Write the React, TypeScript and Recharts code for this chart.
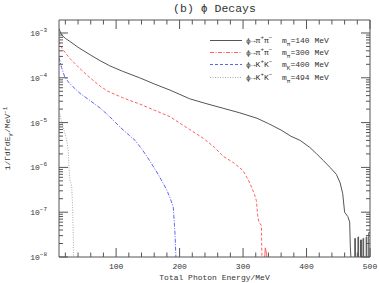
import React from 'react';
import { LineChart, Line, XAxis, YAxis, Label } from 'recharts';

// phi -> pi+ pi-, m = 140 MeV
const energy140 = [10, 12, 15, 20, 27, 40, 60, 75, 90, 110, 137, 160, 185, 216, 240, 268, 295, 322, 340, 360, 375, 390, 405, 416, 427, 437, 447, 453, 457, 460, 465, 468, 469, 471];
const rate140 = [1.25e-3, 1.05e-3, 8.8e-4, 7.6e-4, 6.5e-4, 4.8e-4, 3.2e-4, 2.4e-4, 1.85e-4, 1.4e-4, 1e-4, 7.3e-5, 5.3e-5, 3.4e-5, 2.7e-5, 2.1e-5, 1.65e-5, 1.25e-5, 9.5e-6, 6.8e-6, 5e-6, 4e-6, 2.8e-6, 2e-6, 1.4e-6, 1e-6, 7e-7, 4.5e-7, 2.6e-7, 1e-7, 8e-8, 6e-8, 1.7e-8, 5e-9];
const energy140Tail = [474, 476, 477, 481, 482, 485, 486.5, 489, 490, 494, 495, 498, 500];
const rate140Tail = [5e-9, 2.6e-8, 5e-9, 2.8e-8, 5e-9, 2.4e-8, 5e-9, 2.6e-8, 5e-9, 2.8e-8, 5e-9, 3.5e-8, 3.5e-8];

// phi -> pi+ pi-, m = 300 MeV
const energy300 = [10, 15, 20, 27, 43, 59, 75, 87, 110, 137, 160, 185, 216, 237, 255, 268, 284, 300, 311, 318, 321, 323, 325, 329, 330];
const rate300 = [6.5e-4, 4.5e-4, 3.6e-4, 2.7e-4, 1.6e-4, 1e-4, 6.5e-5, 5e-5, 3.6e-5, 2.6e-5, 1.9e-5, 1.35e-5, 7e-6, 4.5e-6, 2.8e-6, 1.8e-6, 1.3e-6, 8.5e-7, 4.4e-7, 2.5e-7, 1.8e-7, 8.5e-8, 6e-8, 5e-8, 5e-9];
const energy300Tail = [333, 335, 337, 339];
const rate300Tail = [5e-9, 1.6e-8, 1.2e-8, 5e-9];

// phi -> K+ K-, m = 400 MeV
const energy400 = [10, 14, 19, 25, 32, 43, 59, 75, 90, 106, 118, 130, 142, 153, 165, 175, 180, 186, 190, 192, 193, 195];
const rate400 = [2.8e-4, 1.7e-4, 1.05e-4, 8e-5, 6.3e-5, 4.5e-5, 3.1e-5, 2.1e-5, 1.35e-5, 8e-6, 5.6e-6, 4e-6, 2.4e-6, 1.4e-6, 7.5e-7, 4.2e-7, 3.1e-7, 1.9e-7, 1.3e-7, 5e-8, 2.8e-8, 5e-9];

// phi -> K+ K-, m = 494 MeV
const energy494 = [11, 14.7, 19.4, 22, 24.6, 25.7, 27.3, 29, 30, 31.5, 32.5, 33];
const rate494 = [1.6e-5, 1e-5, 5.7e-6, 4.1e-6, 2.4e-6, 1e-6, 5e-7, 4.4e-7, 3.8e-7, 1.3e-7, 3e-8, 5e-9];

const xTicks = [20, 40, 60, 80, 100, 120, 140, 160, 180, 200, 220, 240, 260, 280, 300, 320, 340, 360, 380, 400, 420, 440, 460, 480, 500];
const decades = [-8, -7, -6, -5, -4, -3];
const mantissas = [1, 2, 3, 4, 5, 6, 7, 8, 9];

const yTicks: number[] = [];
decades.forEach((d) => mantissas.forEach((m) => {
  const v = m * Math.pow(10, d);
  if (v < 1.95e-3) yTicks.push(Number(v.toPrecision(3)));
}));

const pts = (xs: number[], ys: number[]) => xs.map((e, i) => ({ e, r: ys[i] }));

const FONT = '"Liberation Mono", "DejaVu Sans Mono", monospace';
const AXIS = '#555';
const TEXT = '#333';

const isDecade = (v: number) => {
  const l = Math.log10(v);
  return Math.abs(l - Math.round(l)) < 1e-6;
};

const BottomTick = (props: any) => {
  const { x, y, payload } = props;
  const major = payload.value % 100 === 0;
  return (
    <g>
      <line x1={x} x2={x} y1={y} y2={y - (major ? 9 : 4.5)} stroke={AXIS} />
      {major && (
        <text x={x} y={y + 12} textAnchor="middle" fontSize={8} fontFamily={FONT} fill={TEXT}>
          {payload.value}
        </text>
      )}
    </g>
  );
};

const TopTick = (props: any) => {
  const { x, y, payload } = props;
  const major = payload.value % 100 === 0;
  return <line x1={x} x2={x} y1={y} y2={y + (major ? 9 : 4.5)} stroke={AXIS} />;
};

const LeftTick = (props: any) => {
  const { x, y, payload } = props;
  const major = isDecade(payload.value);
  return (
    <g>
      <line x1={x} x2={x + (major ? 9 : 4)} y1={y} y2={y} stroke={AXIS} />
      {major && (
        <text x={x - 12} y={y + 3} textAnchor="end" fontSize={8} fontFamily={FONT} fill={TEXT}>
          10
          <tspan dy={-4} fontSize={6}>{'\u2212' + Math.abs(Math.round(Math.log10(payload.value)))}</tspan>
        </text>
      )}
    </g>
  );
};

const RightTick = (props: any) => {
  const { x, y, payload } = props;
  const major = isDecade(payload.value);
  return <line x1={x} x2={x - (major ? 9 : 4)} y1={y} y2={y} stroke={AXIS} />;
};

const TitleLabel = (props: any) => {
  const { viewBox } = props;
  return (
    <text x={viewBox.x + viewBox.width / 2} y={12} textAnchor="middle" fontSize={11.5} fontFamily={FONT} fill={TEXT}>
      (b) ϕ Decays
    </text>
  );
};

const YTitle = (props: any) => {
  const { viewBox } = props;
  const cy = viewBox.y + viewBox.height / 2;
  return (
    <text x={10} y={cy} transform={`rotate(-90, 10, ${cy})`} textAnchor="middle" fontSize={8} fontFamily={FONT} fill={TEXT}>
      1/ΓdΓdE<tspan dy={2} fontSize={6}>γ</tspan><tspan dy={-2}>/MeV</tspan><tspan dy={-3} fontSize={6}>−1</tspan>
    </text>
  );
};

const legendRows = [
  { label: ['ϕ→π', '+', 'π', '−', 'π', '=140 MeV'], color: '#555', dash: '' },
  { label: ['ϕ→π', '+', 'π', '−', 'π', '=300 MeV'], color: '#ff6060', dash: '4 1.5 1 1.5' },
  { label: ['ϕ→K', '+', 'K', '−', 'K', '=400 MeV'], color: '#6060ff', dash: '3 2' },
  { label: ['ϕ→K', '+', 'K', '−', 'π', '=494 MeV'], color: '#aaa', dash: '1 1.5' },
];

const ChartLegend = () => (
  <div style={{ position: 'absolute', left: 210, top: 34, fontFamily: FONT, fontSize: 8, color: TEXT }}>
    {legendRows.map((r, i) => (
      <div key={i} style={{ height: 12.3, display: 'flex', alignItems: 'center', whiteSpace: 'pre' }}>
        <svg width={34} height={5} style={{ marginRight: 2 }}>
          <line x1={0} x2={32} y1={2.5} y2={2.5} stroke={r.color} strokeDasharray={r.dash} />
        </svg>
        <span>
          {r.label[0]}<sup style={{ fontSize: 6, lineHeight: 0 }}>{r.label[1]}</sup>{r.label[2]}
          <sup style={{ fontSize: 6, lineHeight: 0 }}>{r.label[3]}</sup>{'  m'}
          <sub style={{ fontSize: 6, lineHeight: 0 }}>{r.label[4]}</sub>{r.label[5]}
        </span>
      </div>
    ))}
  </div>
);

export default function App() {
  return (
    <div style={{ position: 'relative', width: 380, height: 283, background: '#fff' }}>
      <style>{'body{margin:0}'}</style>
      <LineChart width={380} height={283} margin={{ top: 0, right: 0, bottom: 0, left: 0 }}>
        <XAxis
          xAxisId="bottom"
          dataKey="e"
          type="number"
          domain={[10, 500]}
          allowDataOverflow
          ticks={xTicks}
          interval={0}
          height={26}
          tickSize={0}
          tickMargin={0}
          tickLine={false}
          stroke={AXIS}
          tick={<BottomTick />}
        >
          <Label value="Total Photon Energy/MeV" position="insideBottom" offset={3} fontSize={8} fontFamily={FONT} fill={TEXT} />
        </XAxis>
        <XAxis
          xAxisId="top"
          orientation="top"
          dataKey="e"
          type="number"
          domain={[10, 500]}
          allowDataOverflow
          ticks={xTicks}
          interval={0}
          height={20}
          tickSize={0}
          tickMargin={0}
          tickLine={false}
          stroke={AXIS}
          tick={<TopTick />}
        >
          <Label content={<TitleLabel />} />
        </XAxis>
        <YAxis
          yAxisId="left"
          scale="log"
          type="number"
          domain={[1e-8, 1.95e-3]}
          allowDataOverflow
          ticks={yTicks}
          interval={0}
          width={59}
          tickSize={0}
          tickMargin={0}
          tickLine={false}
          stroke={AXIS}
          tick={<LeftTick />}
        >
          <Label content={<YTitle />} />
        </YAxis>
        <YAxis
          yAxisId="right"
          orientation="right"
          scale="log"
          type="number"
          domain={[1e-8, 1.95e-3]}
          allowDataOverflow
          ticks={yTicks}
          interval={0}
          width={10}
          tickSize={0}
          tickMargin={0}
          tickLine={false}
          stroke={AXIS}
          tick={<RightTick />}
        />
        <Line xAxisId="bottom" yAxisId="left" data={pts(energy494, rate494)} dataKey="r" type="linear" stroke="#aaa" strokeWidth={1} strokeDasharray="1 1.5" dot={false} isAnimationActive={false} />
        <Line xAxisId="bottom" yAxisId="left" data={pts(energy400, rate400)} dataKey="r" type="linear" stroke="#6060ff" strokeWidth={1} strokeDasharray="4 1.5 1 1.5" dot={false} isAnimationActive={false} />
        <Line xAxisId="bottom" yAxisId="left" data={pts(energy300, rate300)} dataKey="r" type="linear" stroke="#ff6060" strokeWidth={1} strokeDasharray="3 2" dot={false} isAnimationActive={false} />
        <Line xAxisId="bottom" yAxisId="left" data={pts(energy300Tail, rate300Tail)} dataKey="r" type="linear" stroke="#ff6060" strokeWidth={1} dot={false} isAnimationActive={false} />
        <Line xAxisId="bottom" yAxisId="left" data={pts(energy140, rate140)} dataKey="r" type="linear" stroke="#555" strokeWidth={1} dot={false} isAnimationActive={false} />
        <Line xAxisId="bottom" yAxisId="left" data={pts(energy140Tail, rate140Tail)} dataKey="r" type="stepAfter" stroke="#555" strokeWidth={1} dot={false} isAnimationActive={false} />
      </LineChart>
      <ChartLegend />
    </div>
  );
}
